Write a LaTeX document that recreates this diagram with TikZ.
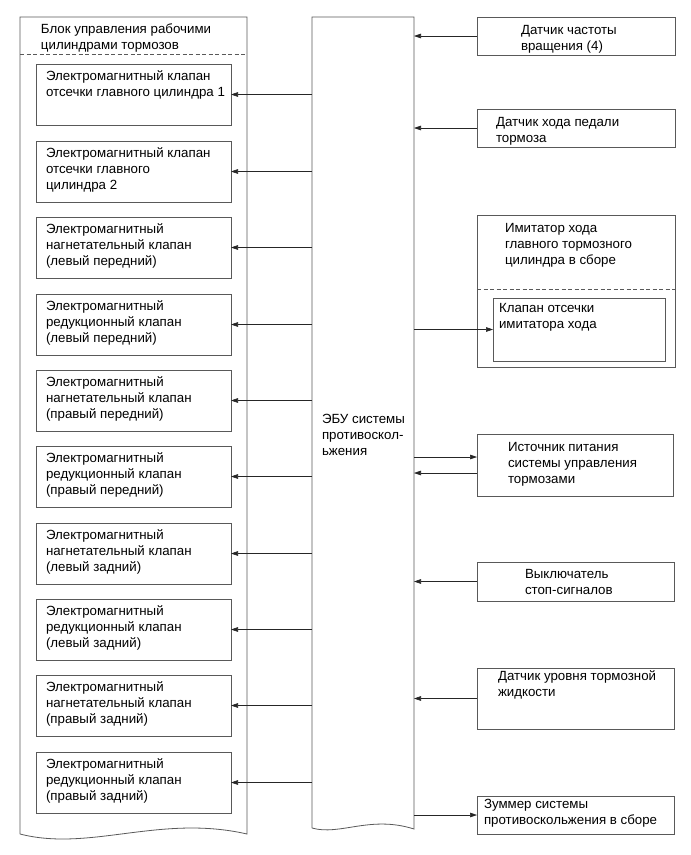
\documentclass[tikz,border=0pt]{standalone}
\usepackage{fontspec}
\setmainfont{Liberation Sans}
\usetikzlibrary{arrows.meta,calc}
\begin{document}
\begin{tikzpicture}[x=1pt,y=-1pt,
  every node/.style={inner sep=0pt,outer sep=0pt},
  boxline/.style={draw=black!65,line width=0.8pt},
  frame/.style={boxline,anchor=north west},
  lbl/.style={anchor=north west,align=left,font=\fontsize{13.3}{16}\selectfont},
  dashline/.style={draw=black!65,line width=0.7pt,dash pattern=on 4pt off 2.5pt},
  arr/.style={draw=black!85,line width=0.6pt,-{Triangle[length=7pt,width=4.6pt]}}]
\useasboundingbox (0,0) rectangle (691,855);
% left block (outline drawn as a path)
\node[anchor=north west,minimum width=227pt,minimum height=817pt] (blk) at (20,17) {};
\draw[boxline] (20,834) -- (20,17) -- (247,17) -- (247,834)
  .. controls (160,814) and (90,852) .. (20,834);
\draw[dashline] (20,54) -- (247,54);
\node[lbl] (blkt) at (41,24) {Блок управления рабочими\\цилиндрами тормозов};
% ECU
\node[anchor=north west,minimum width=102pt,minimum height=812pt] (ecu) at (312,17) {};
\draw[boxline] (312,828) -- (312,17) -- (414,17) -- (414,829)
  .. controls (370,815) and (340,836) .. (312,828);
\node[lbl] (ecut) at (322,414) {ЭБУ системы\\противоскол-\\ьжения};
% left boxes
\foreach \i/\t/\txt in {
  1/64/{Электромагнитный клапан\\отсечки главного цилиндра 1},
  2/141/{Электромагнитный клапан\\отсечки главного\\цилиндра 2},
  3/217/{Электромагнитный\\нагнетательный клапан\\(левый передний)},
  4/294/{Электромагнитный\\редукционный клапан\\(левый передний)},
  5/370/{Электромагнитный\\нагнетательный клапан\\(правый передний)},
  6/446/{Электромагнитный\\редукционный клапан\\(правый передний)},
  7/523/{Электромагнитный\\нагнетательный клапан\\(левый задний)},
  8/599/{Электромагнитный\\редукционный клапан\\(левый задний)},
  9/675/{Электромагнитный\\нагнетательный клапан\\(правый задний)},
  10/752/{Электромагнитный\\редукционный клапан\\(правый задний)}}{
  \node[frame,minimum width=195pt,minimum height=61pt] (b\i) at (36,\t) {};
  \node[lbl] (bt\i) at (46,\t+6.5) {\txt};
  \draw[arr] (ecu.west |- b\i.east) -- (b\i.east);
}
% right boxes
\node[frame,minimum width=198pt,minimum height=38pt] (r1) at (477,17) {};
\node[lbl] (r1t) at (521,25) {Датчик частоты\\вращения (4)};
\node[frame,minimum width=198pt,minimum height=38pt] (r2) at (477,109) {};
\node[lbl] (r2t) at (496,117) {Датчик хода педали\\тормоза};
\node[frame,minimum width=198pt,minimum height=152pt] (r3) at (477,215) {};
\draw[dashline] (477,289) -- (675,289);
\node[lbl] (r3t) at (505,223) {Имитатор хода\\главного тормозного\\цилиндра в сборе};
\node[frame,minimum width=172pt,minimum height=63pt] (r3i) at (493,298) {};
\node[lbl] (r3it) at (499,303) {Клапан отсечки\\имитатора хода};
\node[frame,minimum width=196pt,minimum height=62pt] (r4) at (477,434) {};
\node[lbl] (r4t) at (508,442) {Источник питания\\системы управления\\тормозами};
\node[frame,minimum width=197pt,minimum height=39pt] (r5) at (477,562) {};
\node[lbl] (r5t) at (525,569) {Выключатель\\стоп-сигналов};
\node[frame,minimum width=197pt,minimum height=61pt] (r6) at (477,668) {};
\node[lbl] (r6t) at (498,671) {Датчик уровня тормозной\\жидкости};
\node[frame,minimum width=197pt,minimum height=38pt] (r7) at (477,796) {};
\node[lbl] (r7t) at (484,799) {Зуммер системы\\противоскольжения в сборе};
% connectors on the right
\draw[arr] (r1.west) -- (ecu.east |- r1.west);
\draw[arr] (r2.west) -- (ecu.east |- r2.west);
\draw[arr] (ecu.east |- r3i.west) -- (r3i.west);
\coordinate (p4a) at ([yshift=8pt]r4.west);
\coordinate (p4b) at ([yshift=-8pt]r4.west);
\draw[arr] (ecu.east |- p4a) -- (p4a);
\draw[arr] (p4b) -- (ecu.east |- p4b);
\draw[arr] (r5.west) -- (ecu.east |- r5.west);
\draw[arr] (r6.west) -- (ecu.east |- r6.west);
\draw[arr] (ecu.east |- r7.west) -- (r7.west);
\end{tikzpicture}
\end{document}
